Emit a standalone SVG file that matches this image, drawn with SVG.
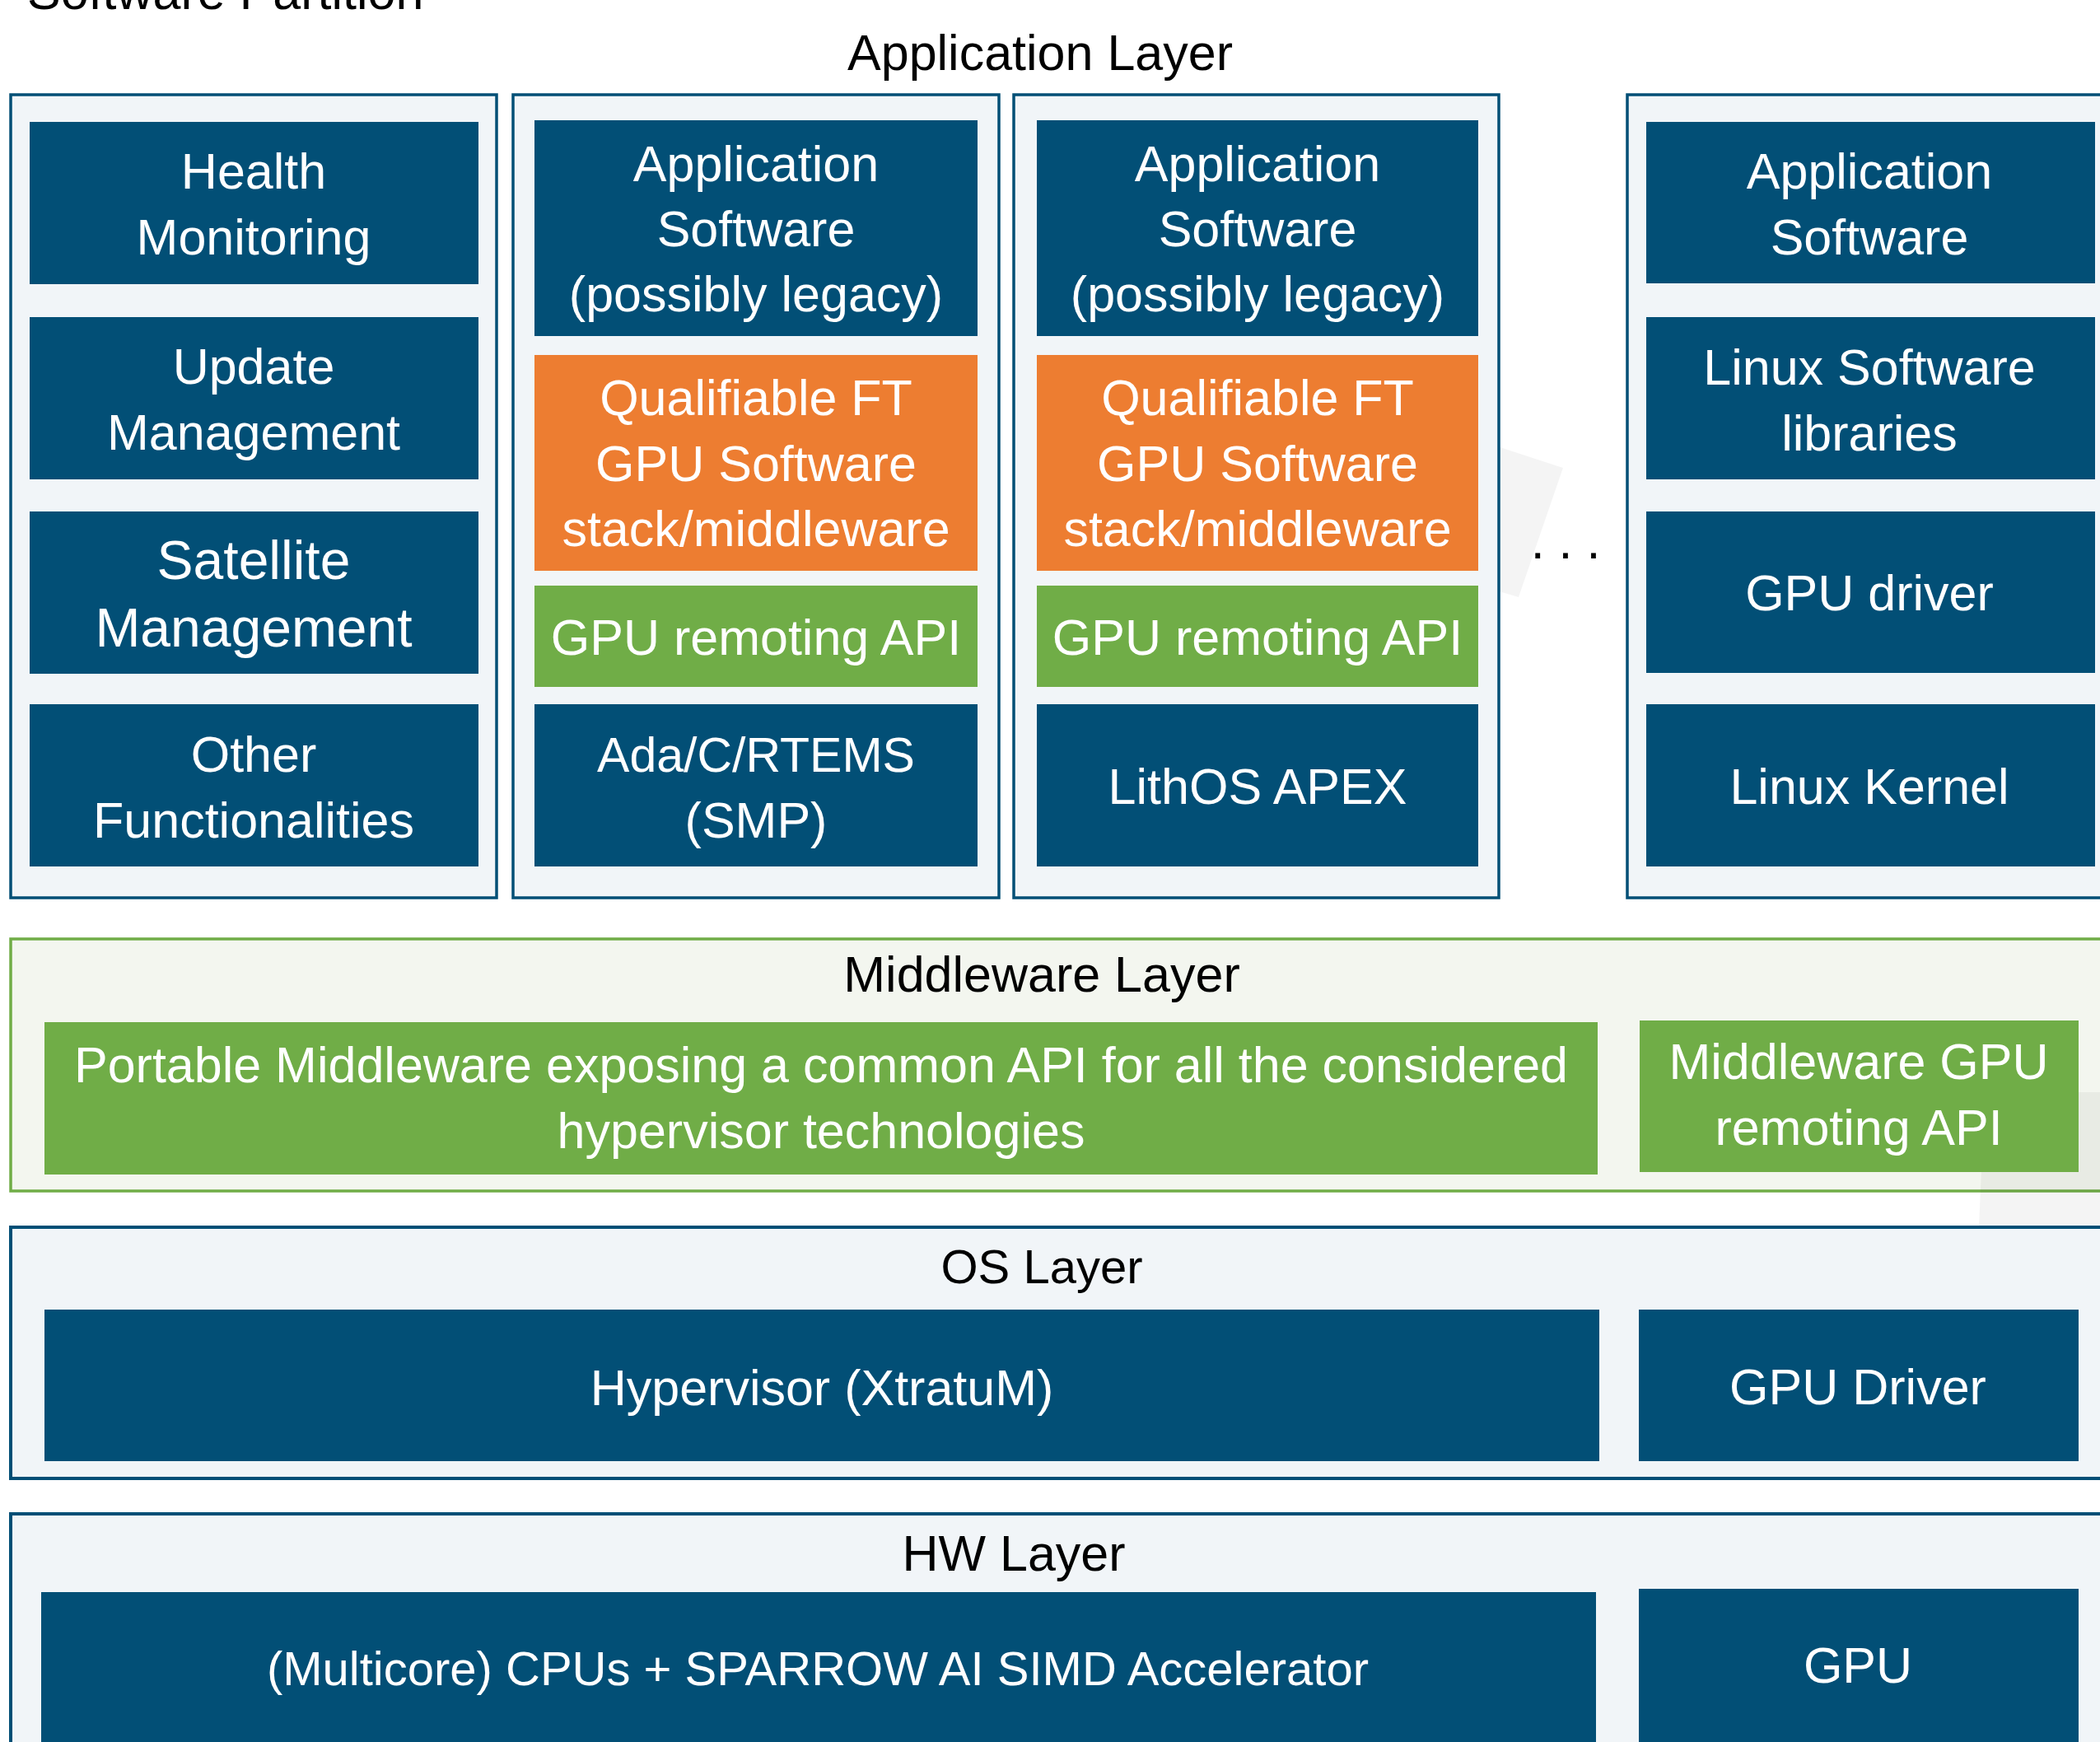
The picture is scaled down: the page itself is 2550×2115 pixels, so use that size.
<svg xmlns="http://www.w3.org/2000/svg" width="2550" height="2115" viewBox="0 0 2550 2115">
<style>
text{font-family:"Liberation Sans",Arial,sans-serif;font-size:61px;text-anchor:middle}
.t{fill:#000}
.w{fill:#fff}
.blue{fill:#024f76}
.orange{fill:#ed7d31}
.green{fill:#70ad47}
.part{fill:#f1f5f8;stroke:#024f76;stroke-width:3.5}
.layer{fill:#f1f5f8;stroke:#024f76;stroke-width:4}
.mlayer{fill:#f3f6ef;stroke:#70ad47;stroke-width:3.5}
.ghost{fill:#000;fill-opacity:0.045}
</style>
<rect width="2550" height="2115" fill="#fff"/>
<text class="t" x="33" y="11" style="text-anchor:start">Software Partition</text>
<text class="t" x="1263" y="85">Application Layer</text>

<polygon class="ghost" points="1800,536 1898,568 1844,725 1800,712"/>

<g id="partition1">
<rect class="part" x="13" y="115" width="590" height="975"/>
<g id="health"><rect class="blue" x="36" y="148" width="545" height="197"/><text class="w" x="308" y="229">Health</text><text class="w" x="308" y="309">Monitoring</text></g>
<g id="update"><rect class="blue" x="36" y="385" width="545" height="197"/><text class="w" x="308" y="466">Update</text><text class="w" x="308" y="546">Management</text></g>
<g id="satellite"><rect class="blue" x="36" y="621" width="545" height="197"/><text class="w" x="308" y="703" style="font-size:66px">Satellite</text><text class="w" x="308" y="785" style="font-size:66px">Management</text></g>
<g id="other"><rect class="blue" x="36" y="855" width="545" height="197"/><text class="w" x="308" y="937">Other</text><text class="w" x="308" y="1017">Functionalities</text></g>
</g>

<g id="partition2">
<rect class="part" x="623" y="115" width="590" height="975"/>
<g id="appsw2"><rect class="blue" x="649" y="146" width="538" height="262"/><text class="w" x="918" y="220">Application</text><text class="w" x="918" y="299">Software</text><text class="w" x="918" y="378">(possibly legacy)</text></g>
<g id="qft2"><rect class="orange" x="649" y="431" width="538" height="262"/><text class="w" x="918" y="504">Qualifiable FT</text><text class="w" x="918" y="584">GPU Software</text><text class="w" x="918" y="663">stack/middleware</text></g>
<g id="gpuapi2"><rect class="green" x="649" y="711" width="538" height="123"/><text class="w" x="918" y="795">GPU remoting API</text></g>
<g id="ada"><rect class="blue" x="649" y="855" width="538" height="197"/><text class="w" x="918" y="937" style="font-size:59px">Ada/C/RTEMS</text><text class="w" x="918" y="1017">(SMP)</text></g>
</g>

<g id="partition3">
<rect class="part" x="1231" y="115" width="589" height="975"/>
<g id="appsw3"><rect class="blue" x="1259" y="146" width="536" height="262"/><text class="w" x="1527" y="220">Application</text><text class="w" x="1527" y="299">Software</text><text class="w" x="1527" y="378">(possibly legacy)</text></g>
<g id="qft3"><rect class="orange" x="1259" y="431" width="536" height="262"/><text class="w" x="1527" y="504">Qualifiable FT</text><text class="w" x="1527" y="584">GPU Software</text><text class="w" x="1527" y="663">stack/middleware</text></g>
<g id="gpuapi3"><rect class="green" x="1259" y="711" width="536" height="123"/><text class="w" x="1527" y="795">GPU remoting API</text></g>
<g id="lithos"><rect class="blue" x="1259" y="855" width="536" height="197"/><text class="w" x="1527" y="976">LithOS APEX</text></g>
</g>

<text id="ellipsis" class="t" x="1901" y="678">. . .</text>

<g id="partition4">
<rect class="part" x="1976" y="115" width="600" height="975"/>
<g id="appsw4"><rect class="blue" x="1999" y="148" width="545" height="196"/><text class="w" x="2270" y="229">Application</text><text class="w" x="2270" y="309">Software</text></g>
<g id="linuxlibs"><rect class="blue" x="1999" y="385" width="545" height="197"/><text class="w" x="2270" y="467">Linux Software</text><text class="w" x="2270" y="547">libraries</text></g>
<g id="gpudriver4"><rect class="blue" x="1999" y="621" width="545" height="196"/><text class="w" x="2270" y="741">GPU driver</text></g>
<g id="kernel"><rect class="blue" x="1999" y="855" width="545" height="197"/><text class="w" x="2270" y="976">Linux Kernel</text></g>
</g>

<g id="middleware-layer">
<rect class="mlayer" x="13" y="1140" width="2560" height="306"/>
<polygon class="ghost" points="2410,1326 2560,1326 2560,1488 2403,1488"/>
<text class="t" x="1265" y="1204">Middleware Layer</text>
<g id="portable"><rect class="green" x="54" y="1241" width="1886" height="185"/><text class="w" x="997" y="1314">Portable Middleware exposing a common API for all the considered</text><text class="w" x="997" y="1394">hypervisor technologies</text></g>
<g id="mwgpu"><rect class="green" x="1991" y="1239" width="533" height="184"/><text class="w" x="2257" y="1310">Middleware GPU</text><text class="w" x="2257" y="1390">remoting API</text></g>
</g>

<g id="os-layer">
<rect class="layer" x="13" y="1490" width="2560" height="305"/>
<text class="t" x="1265" y="1558" style="font-size:58px">OS Layer</text>
<g id="hypervisor"><rect class="blue" x="54" y="1590" width="1888" height="184"/><text class="w" x="998" y="1706">Hypervisor (XtratuM)</text></g>
<g id="gpudriver"><rect class="blue" x="1990" y="1590" width="534" height="184"/><text class="w" x="2256" y="1705">GPU Driver</text></g>
</g>

<g id="hw-layer">
<rect class="layer" x="13" y="1838" width="2560" height="320"/>
<text class="t" x="1231" y="1907">HW Layer</text>
<g id="cpus"><rect class="blue" x="50" y="1933" width="1888" height="200"/><text class="w" x="993" y="2046" style="font-size:58px">(Multicore) CPUs + SPARROW AI SIMD Accelerator</text></g>
<g id="gpu"><rect class="blue" x="1990" y="1929" width="534" height="200"/><text class="w" x="2256" y="2043">GPU</text></g>
</g>

<g id="connectors"/>
</svg>
